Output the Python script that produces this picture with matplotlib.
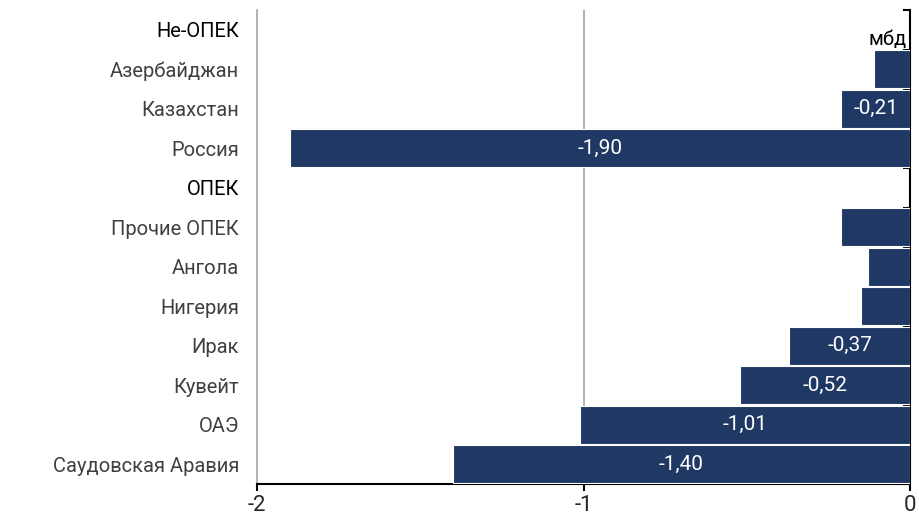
import matplotlib.pyplot as plt
import numpy as np

BAR_COLOR = '#1f3864'
TEXT_COLOR = '#404040'
GRID_COLOR = '#a6a6a6'

categories = ['Не-ОПЕК', 'Азербайджан', 'Казахстан', 'Россия', 'ОПЕК',
              'Прочие ОПЕК', 'Ангола', 'Нигерия', 'Ирак', 'Кувейт', 'ОАЭ',
              'Саудовская Аравия']
values = [np.nan, -0.11, -0.21, -1.90, np.nan,
          -0.21, -0.13, -0.15, -0.37, -0.52, -1.01, -1.40]
labels = ['', '', '-0,21', '-1,90', '',
          '', '', '', '-0,37', '-0,52', '-1,01', '-1,40']
headers = ['Не-ОПЕК', 'ОПЕК']

plt.rcParams['font.family'] = ['Roboto', 'DejaVu Sans']

fig = plt.figure(figsize=(9.19, 5.17), dpi=100)
ax = fig.add_axes([257 / 919, 1 - 484 / 517, 653 / 919, 474 / 517])

ys = np.arange(len(categories))
vals = np.array(values, dtype=float)
mask = np.isfinite(vals)
ax.barh(ys[mask], vals[mask], height=0.96, color=BAR_COLOR,
        edgecolor='white', linewidth=0.8, zorder=3)

for y, v, lab in zip(ys, vals, labels):
    if lab:
        ax.text(v / 2, y, lab, color='white', ha='center', va='center',
                fontsize=15, zorder=4)

ax.set_xlim(-2, 0)
ax.set_ylim(len(categories) - 0.5, -0.5)

# vertical gridline at -1 and the left line at -2
ax.axvline(-1, color=GRID_COLOR, linewidth=1.2, zorder=1)
ax.spines['left'].set_color(GRID_COLOR)
ax.spines['left'].set_linewidth(1.2)
ax.spines['top'].set_visible(False)
ax.spines['right'].set_color('black')
ax.spines['right'].set_linewidth(1.5)
ax.spines['bottom'].set_color('black')
ax.spines['bottom'].set_linewidth(1.5)

ax.set_xticks([-2, -1, 0])
ax.set_xticklabels(['-2', '-1', '0'], fontsize=16, color='#262626')
ax.tick_params(axis='x', length=5, width=1.5, direction='out', pad=3)

ax.set_yticks(ys)
ax.set_yticklabels(categories, fontsize=14.5)
ax.tick_params(axis='y', length=0, pad=13)
for t in ax.get_yticklabels():
    if t.get_text() in headers:
        t.set_color('black')
    else:
        t.set_color(TEXT_COLOR)

# minor ticks on the right spine between rows
ax.set_yticks(np.arange(-0.5, len(categories), 1), minor=True)
ax.tick_params(axis='y', which='minor', left=False, right=True,
               direction='in', length=5, width=1.5, color='black')

ax.text(-0.01, 0.25, 'мбд', ha='right', va='center', fontsize=14.5,
        color='black')

fig.savefig('out.png', dpi=100)
